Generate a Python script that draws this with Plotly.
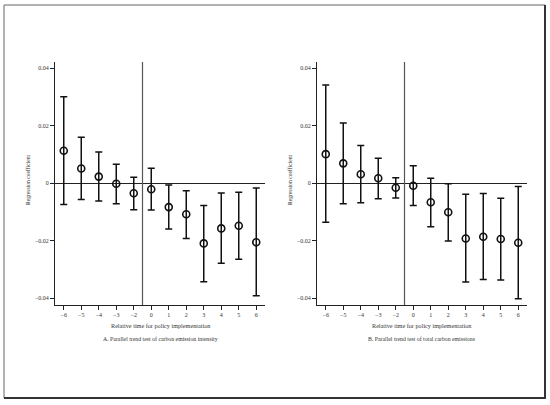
import plotly.graph_objects as go
import numpy as np

periods = ["−6", "−5", "−4", "−3", "−2", "0", "1", "2", "3", "4", "5", "6"]

# Panel A: carbon emission intensity
coef_a = [0.0113, 0.0051, 0.0023, -0.0002, -0.0035, -0.0021, -0.0083, -0.0108, -0.0209, -0.0157, -0.0148, -0.0205]
upper_a = [0.0300, 0.0160, 0.0108, 0.0066, 0.0021, 0.0052, -0.0006, -0.0026, -0.0077, -0.0034, -0.0031, -0.0017]
lower_a = [-0.0074, -0.0057, -0.0062, -0.0071, -0.0092, -0.0093, -0.0159, -0.0192, -0.0342, -0.0278, -0.0264, -0.0391]

# Panel B: total carbon emissions
coef_b = [0.0101, 0.0069, 0.0031, 0.0017, -0.0016, -0.0009, -0.0066, -0.0101, -0.0192, -0.0186, -0.0194, -0.0207]
upper_b = [0.0341, 0.0209, 0.0131, 0.0087, 0.0019, 0.0061, 0.0017, -0.0002, -0.0038, -0.0036, -0.0052, -0.0011]
lower_b = [-0.0136, -0.0071, -0.0068, -0.0054, -0.0051, -0.0077, -0.0151, -0.0201, -0.0343, -0.0334, -0.0336, -0.0401]

ytick_vals = [-0.04, -0.02, 0, 0.02, 0.04]
ytick_text = ["−0.04", "−0.02", "0", "0.02", "0.04"]

x_title = "Relative time for policy implementation"
y_title = "Regression coefficient"
sub_a = "A. Parallel trend test of carbon emission intensity"
sub_b = "B. Parallel trend test of total carbon emissions"

W, H = 550, 405
FONT = "Liberation Serif"

fig = go.Figure()


def add_panel(coef, up, lo, xa, ya):
    c = np.array(coef)
    fig.add_trace(go.Scatter(
        x=periods, y=coef, mode="markers", xaxis=xa, yaxis=ya,
        marker=dict(symbol="circle-open", size=7, color="#111", line=dict(width=1.6, color="#111")),
        error_y=dict(type="data", symmetric=False,
                     array=(np.array(up) - c).tolist(),
                     arrayminus=(c - np.array(lo)).tolist(),
                     color="#111", thickness=1.5, width=3.5),
        showlegend=False, cliponaxis=False, hoverinfo="skip",
    ))


add_panel(coef_a, upper_a, lower_a, "x", "y")
add_panel(coef_b, upper_b, lower_b, "x2", "y2")

y_top, y_bot = 62, 305
ydom = [1 - y_bot / H, 1 - y_top / H]
yrange = [-0.0423, 0.0421]

axis_common = dict(showgrid=False, showline=True, linecolor="#222", linewidth=1,
                   ticks="outside", ticklen=4, tickcolor="#222", tickwidth=1,
                   tickfont=dict(family=FONT, size=6, color="#333"))

fig.update_layout(
    width=W, height=H,
    margin=dict(l=0, r=0, t=0, b=0),
    paper_bgcolor="white", plot_bgcolor="white",
    font=dict(family=FONT, size=6, color="#333"),
    xaxis=dict(domain=[55 / W, 265 / W], type="category", range=[-0.5, len(periods) - 0.5],
               anchor="y", **axis_common),
    yaxis=dict(domain=ydom, range=yrange, tickvals=ytick_vals, ticktext=ytick_text,
               zeroline=True, zerolinecolor="#222", zerolinewidth=1, anchor="x", **axis_common),
    xaxis2=dict(domain=[317 / W, 527 / W], type="category", range=[-0.5, len(periods) - 0.5],
                anchor="y2", **axis_common),
    yaxis2=dict(domain=ydom, range=yrange, tickvals=ytick_vals, ticktext=ytick_text,
                zeroline=True, zerolinecolor="#222", zerolinewidth=1, anchor="x2", **axis_common),
)

split = periods.index("0") - 0.5
for xr, yr in (("x", "y"), ("x2", "y2")):
    fig.add_shape(type="line", xref=xr, yref=yr + " domain", x0=split, x1=split, y0=0, y1=1.0,
                  line=dict(color="#555", width=1.2))

# annotations: titles
ann = []
for cx, sub in ((160, sub_a), (422, sub_b)):
    ann.append(dict(text=x_title, x=cx / W, y=1 - 325 / H, xref="paper", yref="paper",
                    showarrow=False, font=dict(family=FONT, size=6.2, color="#333"),
                    xanchor="center", yanchor="middle"))
    ann.append(dict(text=sub, x=cx / W, y=1 - 339 / H, xref="paper", yref="paper",
                    showarrow=False, font=dict(family=FONT, size=5.8, color="#333"),
                    xanchor="center", yanchor="middle"))
for cx in (28, 290):
    ann.append(dict(text=y_title, x=cx / W, y=1 - 180 / H, xref="paper", yref="paper",
                    showarrow=False, textangle=-90, font=dict(family=FONT, size=5.6, color="#333"),
                    xanchor="center", yanchor="middle"))
fig.update_layout(annotations=ann)

# outer frame with shadow-like edges
fig.add_shape(type="rect", xref="paper", yref="paper",
              x0=4 / W, x1=545 / W, y0=1 - 398 / H, y1=1 - 5 / H,
              line=dict(color="#666", width=1))
fig.add_shape(type="line", xref="paper", yref="paper",
              x0=545 / W, x1=545 / W, y0=1 - 399 / H, y1=1 - 5 / H,
              line=dict(color="#333", width=2))
fig.add_shape(type="line", xref="paper", yref="paper",
              x0=4 / W, x1=546 / W, y0=1 - 398 / H, y1=1 - 398 / H,
              line=dict(color="#333", width=2))

fig.write_html("out.html", config={"displayModeBar": False},
               post_script="document.body.style.margin='0px';document.body.style.overflow='hidden';")
